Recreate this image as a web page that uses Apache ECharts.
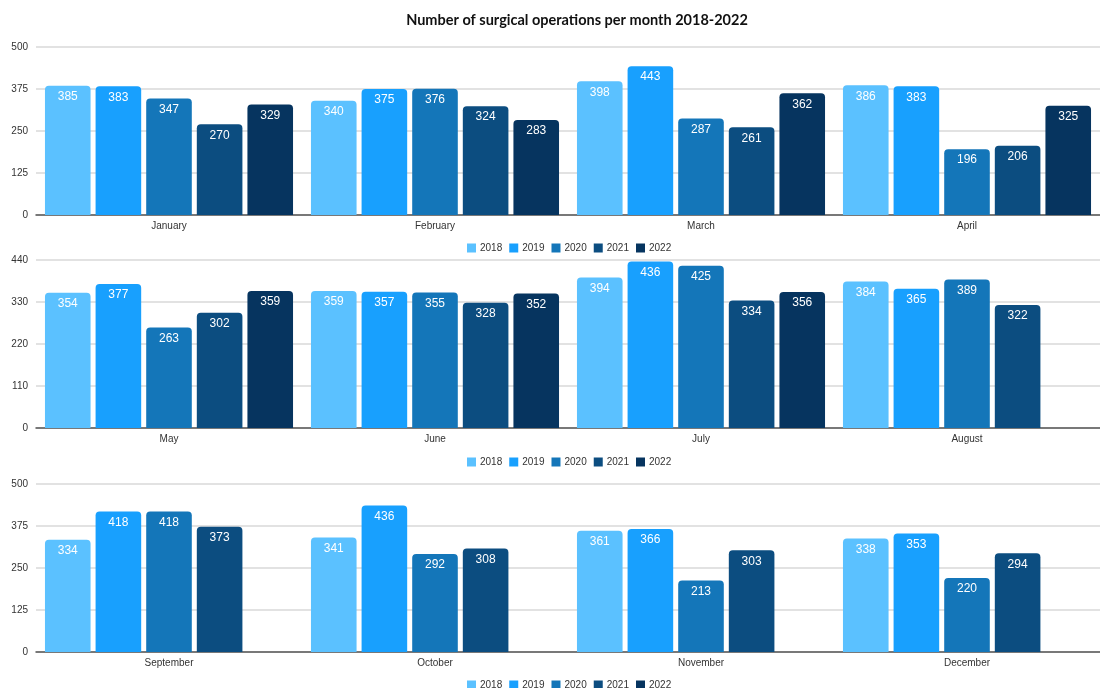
<!DOCTYPE html>
<html>
<head>
<meta charset="utf-8">
<script src="https://cdn.jsdelivr.net/npm/echarts@6/dist/echarts.min.js"></script>
<style>
  html, body { margin: 0; padding: 0; background: #fff; }
  #chart { width: 1100px; height: 688px; }
</style>
</head>
<body>
<div id="chart"></div>
<script>
// Monthly surgical operation counts, one array per year
const months = ['January','February','March','April','May','June','July','August','September','October','November','December'];
const years = ['2018','2019','2020','2021','2022'];
const y2018 = [385, 340, 398, 386, 354, 359, 394, 384, 334, 341, 361, 338];
const y2019 = [383, 375, 443, 383, 377, 357, 436, 365, 418, 436, 366, 353];
const y2020 = [347, 376, 287, 196, 263, 355, 425, 389, 418, 292, 213, 220];
const y2021 = [270, 324, 261, 206, 302, 328, 334, 322, 373, 308, 303, 294];
const y2022 = [329, 283, 362, 325, 359, 352, 356, null, null, null, null, null];

// Value-axis scales of the three panels
const axisMax = [500, 440, 500];
const axisStep = [125, 110, 125];

const yearColors = ['#5BC1FF', '#18A0FE', '#1476B9', '#0C4D80', '#06345F'];
const yearValues = [y2018, y2019, y2020, y2021, y2022];

const font = '"Liberation Sans", Arial, sans-serif';
const gridTops = [47, 260, 484];
const panelHeight = 168;
const legendTops = [238, 452, 675];

const grids = [], xAxes = [], yAxes = [], legends = [], series = [];

for (let p = 0; p < 3; p++) {
  const cats = months.slice(p * 4, p * 4 + 4);
  grids.push({ left: 36, right: -7, top: gridTops[p], height: panelHeight });
  xAxes.push({
    type: 'category', gridIndex: p, data: cats,
    axisTick: { show: false },
    axisLine: { lineStyle: { color: '#555', width: 1.5 } },
    axisLabel: { color: '#333', fontFamily: font, fontSize: 10, margin: 6 }
  });
  yAxes.push({
    type: 'value', gridIndex: p, min: 0, max: axisMax[p], interval: axisStep[p],
    axisLine: { show: false }, axisTick: { show: false },
    splitLine: { lineStyle: { color: '#d9d9d9', width: 1.5 } },
    axisLabel: { color: '#333', fontFamily: font, fontSize: 10, margin: 8 }
  });
  legends.push({
    data: years, top: legendTops[p], left: 462,
    itemWidth: 9, itemHeight: 9, itemGap: 7, icon: 'rect',
    textStyle: { color: '#333', fontFamily: font, fontSize: 10, padding: [0, 0, 0, -1] }
  });
  years.forEach((yr, k) => {
    series.push({
      name: yr, type: 'bar', xAxisIndex: p, yAxisIndex: p,
      data: yearValues[k].slice(p * 4, p * 4 + 4),
      barWidth: 45.6, barGap: '11%',
      itemStyle: { color: yearColors[k], borderRadius: [4, 4, 0, 0] },
      label: {
        show: true, position: 'insideTop', distance: 5,
        color: '#fff', fontFamily: font, fontSize: 12
      },
      emphasis: { disabled: true },
      animation: false
    });
  });
}

const chart = echarts.init(document.getElementById('chart'), null, { renderer: 'canvas' });
chart.setOption({
  backgroundColor: '#fff',
  animation: false,
  title: {
    text: 'Number of surgical operations per month 2018-2022',
    left: 572, top: 8, textAlign: 'center',
    textStyle: { fontFamily: 'Lato, "Open Sans", sans-serif', fontWeight: 'bold', fontSize: 14.5, color: '#111' }
  },
  grid: grids,
  xAxis: xAxes,
  yAxis: yAxes,
  legend: legends,
  series: series
});
</script>
</body>
</html>
